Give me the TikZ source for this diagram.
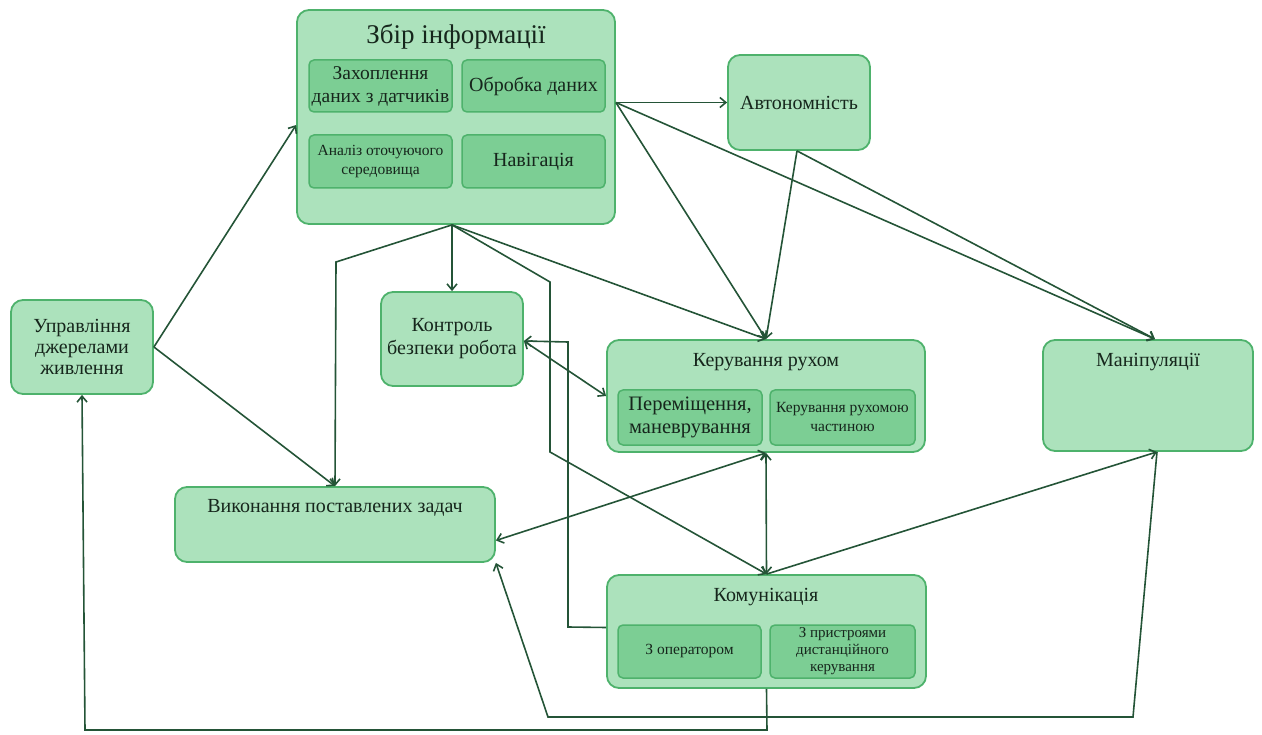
\documentclass[tikz,border=0pt]{standalone}
\usepackage{fontspec}
\setmainfont{Liberation Serif}
\usetikzlibrary{arrows.meta,calc}
\definecolor{boxfill}{RGB}{172,226,188}
\definecolor{subfill}{RGB}{124,206,148}
\definecolor{boxline}{RGB}{78,178,108}
\definecolor{wire}{RGB}{36,84,55}
\definecolor{ink}{RGB}{22,38,28}
\begin{document}
\begin{tikzpicture}[x=1pt,y=-1pt,
  outerbox/.style={draw=boxline,line width=1.8pt,fill=boxfill,rounded corners=12pt,inner sep=0pt},
  subbox/.style={draw=boxline,line width=1.5pt,fill=subfill,rounded corners=5pt,inner sep=0pt,
    text=ink,align=center,font=\fontsize{20}{21}\selectfont},
  smalltext/.style={font=\fontsize{15.5}{19}\selectfont},
  lbl/.style={text=ink,align=center,inner sep=0pt,font=\fontsize{20}{21}\selectfont},
  wireline/.style={draw=wire,line width=1.6pt},
  >={Straight Barb[length=6pt,width=10pt]}]
\useasboundingbox (0,0) rectangle (1262,735);

% ---- main blocks ----
\node[outerbox,minimum width=318pt,minimum height=214pt] (zbir) at (456,117) {};
\node[lbl,font=\fontsize{27}{28}\selectfont] (zbirT) at (456,37) {Збір інформації};
\node[subbox,minimum width=143pt,minimum height=52pt,font=\fontsize{19.5}{23}\selectfont] (zah) at (380.5,86) {Захоплення\\даних з датчиків};
\node[subbox,minimum width=143pt,minimum height=52pt] (obr) at (533.5,86) {Обробка даних};
\node[subbox,smalltext,minimum width=143pt,minimum height=53pt] (anal) at (380.5,161.5) {Аналіз оточуючого\\середовища};
\node[subbox,minimum width=143pt,minimum height=53pt] (nav) at (533.5,161.5) {Навігація};

\node[outerbox,minimum width=142pt,minimum height=95pt,lbl] (avt) at (799,102.5) {Автономність};
\node[outerbox,minimum width=142pt,minimum height=94pt,lbl] (upr) at (82,347) {Управління\\джерелами\\живлення};
\node[outerbox,minimum width=142pt,minimum height=94pt,lbl,font=\fontsize{20}{23}\selectfont] (kontr) at (452,339) {Контроль\\безпеки робота};

\node[outerbox,minimum width=318pt,minimum height=112pt] (ker) at (766,396) {};
\node[lbl] (kerT) at (766,362) {Керування рухом};
\node[subbox,minimum width=144pt,minimum height=55pt,font=\fontsize{20.5}{23}\selectfont] (per) at (690,417.5) {Переміщення,\\маневрування};
\node[subbox,smalltext,minimum width=145pt,minimum height=55pt] (kpr) at (842.5,417.5) {Керування рухомою\\частиною};

\node[outerbox,minimum width=210pt,minimum height=111pt] (man) at (1148,395.5) {};
\node[lbl] (manT) at (1148,362) {Маніпуляції};

\node[outerbox,minimum width=320pt,minimum height=75pt] (vyk) at (335,524.5) {};
\node[lbl] (vykT) at (335,508) {Виконання поставлених задач};

\node[outerbox,minimum width=319pt,minimum height=113pt] (kom) at (766.5,631.5) {};
\node[lbl] (komT) at (766,597) {Комунікація};
\node[subbox,smalltext,minimum width=143pt,minimum height=53pt] (zop) at (689.5,651.5) {З оператором};
\node[subbox,minimum width=145pt,minimum height=53pt,font=\fontsize{15}{17}\selectfont] (zpr) at (842.5,651.5) {З пристроями\\дистанційного\\керування};

% ---- attachment points ----
\coordinate (zS) at ([xshift=-4pt]zbir.south);
\coordinate (zR) at (zbir.east |- avt.west);

% ---- connectors ----
\draw[wireline,->] (upr.east) -- ([yshift=-8pt]zbir.west);
\draw[wireline,->] (upr.east) -- (vyk.north);
\draw[wireline,->] (zS) -- (336,262) -- (vyk.north);
\draw[wireline,->] (zS) -- (kontr.north -| zS);
\draw[wireline,->] (zS) -- (550,282) -- (550,452) -- (kom.north);
\draw[wireline,->] (zS) -- (ker.north);
\draw[wireline,->] (zR) -- (avt.west);
\draw[wireline,->] (zR) -- (ker.north);
\draw[wireline,->] (zR) -- ([xshift=7pt]man.north);
\draw[wireline,->] ([xshift=-2pt]avt.south) -- (ker.north);
\draw[wireline,->] ([xshift=-2pt]avt.south) -- ([xshift=7pt]man.north);
\draw[wireline,<->] ([yshift=-2pt]kontr.east) -- (ker.west);
\draw[wireline,->] ([yshift=4pt]kom.west) -- (568,627) -- (568,342) -- ([yshift=-2pt]kontr.east);
\draw[wireline,<->] (ker.south) -- (kom.north);
\draw[wireline,<->] (ker.south) -- ([yshift=-16pt]vyk.east);
\draw[wireline,->] (kom.north) -- ([xshift=9pt]man.south);
\draw[wireline,->] ([xshift=9pt]man.south) -- (1133,717) -- (548,717) -- (vyk.south east);
\draw[wireline,->] (kom.south) -- (767,730) -- (85,730) -- (upr.south);
\end{tikzpicture}
\end{document}
